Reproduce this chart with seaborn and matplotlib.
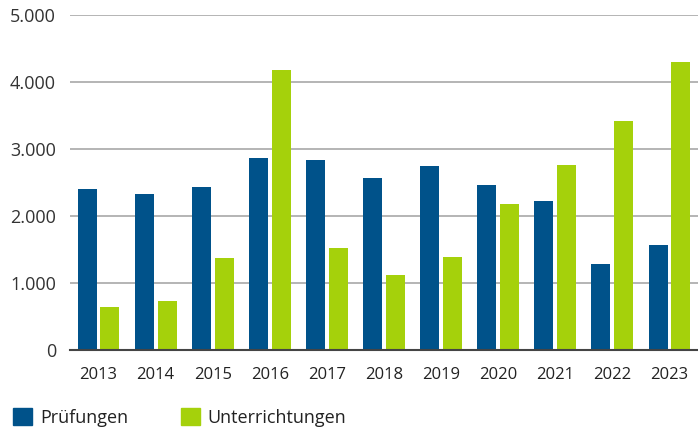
import matplotlib.pyplot as plt
import matplotlib.ticker as mticker
import seaborn as sns
import pandas as pd

jahre = ['2013', '2014', '2015', '2016', '2017', '2018', '2019', '2020', '2021', '2022', '2023']
pruefungen = [2407, 2332, 2437, 2870, 2840, 2571, 2750, 2466, 2227, 1285, 1570]
unterrichtungen = [643, 732, 1375, 4185, 1525, 1121, 1390, 2182, 2765, 3423, 4305]

serien = ['Prüfungen', 'Unterrichtungen']
farben = ['#00528a', '#a5d10b']

df = pd.DataFrame({
    'Jahr': jahre * 2,
    'Anzahl': pruefungen + unterrichtungen,
    'Art': [serien[0]] * len(jahre) + [serien[1]] * len(jahre),
})

sns.set_style('white')
plt.rcParams['font.family'] = ['Open Sans', 'DejaVu Sans']

fig = plt.figure(figsize=(6.98, 4.30), dpi=100)
ax = fig.add_axes([0.1003, 0.186, 0.8997, 0.778])

sns.barplot(data=df, x='Jahr', y='Anzahl', hue='Art', palette=farben,
            width=0.8, gap=0.17, saturation=1, linewidth=0, legend=False, ax=ax)

ax.set_xlim(-0.5, len(jahre) - 0.5)
ax.set_ylim(0, 5000)
ax.set_yticks([0, 1000, 2000, 3000, 4000, 5000])
ax.yaxis.set_major_formatter(mticker.FuncFormatter(lambda v, p: f'{int(v):,}'.replace(',', '.')))
ax.set_xlabel('')
ax.set_ylabel('')

ax.grid(axis='y', color='#a8a8a8', linewidth=1.2)
ax.set_axisbelow(True)
for s in ['top', 'right', 'left']:
    ax.spines[s].set_visible(False)
ax.spines['bottom'].set_color('#444444')
ax.spines['bottom'].set_linewidth(1.5)

ax.tick_params(axis='y', length=0, pad=10, labelsize=13, labelcolor='#333333')
ax.tick_params(axis='x', length=0, pad=12, labelsize=12, labelcolor='#222222')

handles = [plt.Rectangle((0, 0), 1, 1, color=c) for c in farben]
fig.legend(handles, serien, loc='lower left', bbox_to_anchor=(0.0186, 0.008),
           borderaxespad=0, borderpad=0,
           ncol=2, frameon=False, fontsize=13, handlelength=1.05, handleheight=1.05,
           handletextpad=0.45, columnspacing=2.9, labelcolor='#222222')

fig.savefig('out.png', dpi=100)
